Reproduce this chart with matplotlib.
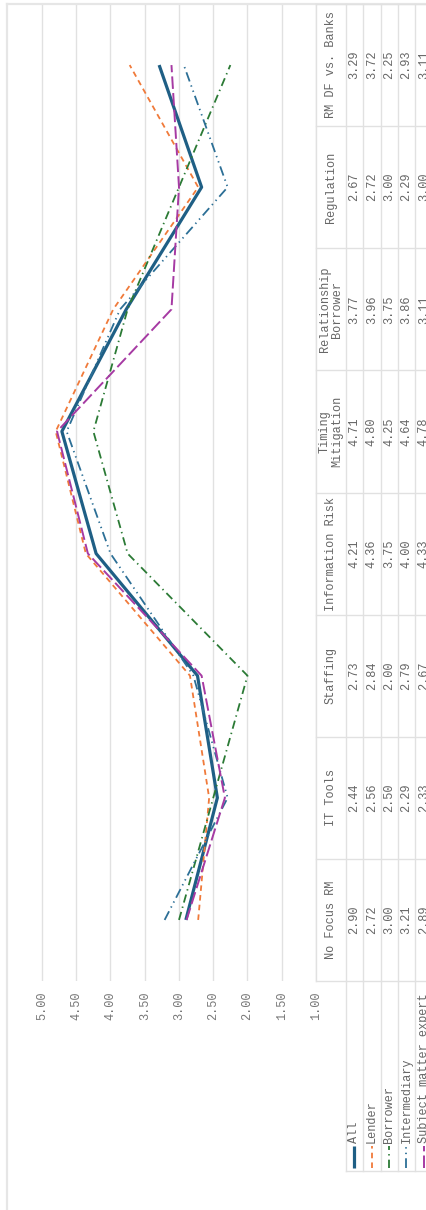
import matplotlib
matplotlib.use("Agg")
import matplotlib.pyplot as plt
from matplotlib.lines import Line2D

plt.rcParams['font.family'] = ['Liberation Mono', 'DejaVu Sans Mono']
plt.rcParams['lines.scale_dashes'] = False

# ---- data -------------------------------------------------------------
categories = ["No Focus RM", "IT Tools", "Staffing", "Information Risk",
              "Timing\nMitigation", "Relationship\nBorrower", "Regulation",
              "RM DF vs. Banks"]
series_names = ["All", "Lender", "Borrower", "Intermediary",
                "Subject matter expert"]
all_vals = [2.90, 2.44, 2.73, 4.21, 4.71, 3.77, 2.67, 3.29]
lender_vals = [2.72, 2.56, 2.84, 4.36, 4.80, 3.96, 2.72, 3.72]
borrower_vals = [3.00, 2.50, 2.00, 3.75, 4.25, 3.75, 3.00, 2.25]
intermediary_vals = [3.21, 2.29, 2.79, 4.00, 4.64, 3.86, 2.29, 2.93]
sme_vals = [2.89, 2.33, 2.67, 4.33, 4.78, 3.11, 3.00, 3.11]
value_ticks = [1.00, 1.50, 2.00, 2.50, 3.00, 3.50, 4.00, 4.50, 5.00]

series_vals = [all_vals, lender_vals, borrower_vals, intermediary_vals, sme_vals]
colors = ["#1f5f85", "#f07a3a", "#2b7a35", "#2c6f96", "#a63aa3"]
widths = [2.3, 1.3, 1.3, 1.3, 1.4]
styles = ["-", (0, (4, 3)), (0, (6, 3, 1, 3)), (0, (7, 3, 1, 3, 1, 3)),
          (0, (9, 3))]

# ---- layout (pixels) ----------------------------------------------------
W, H = 427, 1210
plot_left, plot_right = 7, 316
plot_top, plot_bottom = 4, 981
px_per_unit = 68.5
legend_bottom = 1171
col_edges = [316, 346, 363.5, 381, 398.5, 415.5, 433]
text_color = "#666666"
grid_color = "#e1e1e1"
fs = 8.6

fig = plt.figure(figsize=(W / 100, H / 100), dpi=100)

# main line chart (rotated: values run right-to-left, categories bottom-to-top)
ax = fig.add_axes([plot_left / W, (H - plot_bottom) / H,
                   (plot_right - plot_left) / W, (plot_bottom - plot_top) / H])
v_left = 1.0 + (plot_right - plot_left) / px_per_unit
ax.set_xlim(v_left, 1.0)
ax.set_ylim(-0.5, len(categories) - 0.5)
for v in value_ticks:
    ax.axvline(v, color=grid_color, lw=1.0, zorder=0)
ypos = list(range(len(categories)))
for vals, c, lw, ls in zip(series_vals, colors, widths, styles):
    ax.plot(vals, ypos, color=c, lw=lw, linestyle=ls, zorder=3,
            solid_capstyle='butt', dash_capstyle='butt')
ax.set_xticks([])
ax.set_yticks([])
for s in ax.spines.values():
    s.set_visible(False)
ax.patch.set_alpha(0)

# overlay in pixel coordinates for frame, table and legend
ov = fig.add_axes([0, 0, 1, 1], zorder=5)
ov.set_xlim(0, W)
ov.set_ylim(H, 0)
ov.axis('off')
ov.patch.set_alpha(0)

line_kw = dict(color=grid_color, lw=1.0)
# outer frame
ov.plot([plot_left, W], [plot_top, plot_top], color="#e6e6e6", lw=1.6)
ov.plot([plot_left, plot_left], [plot_top, H], color="#e6e6e6", lw=1.6)

# value axis labels
for v in value_ticks:
    x = plot_right - (v - 1.0) * px_per_unit
    ov.text(x, 1006, f"{v:.2f}", rotation=90, ha='center', va='center',
            fontsize=fs, color="#777777")

# table grid
n = len(categories)
cell_h = (plot_bottom - plot_top) / n
for i in range(n + 1):
    y = plot_top + i * cell_h
    ov.plot([col_edges[0], W], [y, y], **line_kw)
for x in col_edges[:-1]:
    ov.plot([x, x], [plot_top, plot_bottom], **line_kw)
for x in col_edges[1:-1]:
    ov.plot([x, x], [plot_bottom, legend_bottom], **line_kw)
ov.plot([col_edges[1], W], [legend_bottom, legend_bottom], **line_kw)

# table text: category headers and values
for i, cat in enumerate(categories):
    yc = plot_bottom - (i + 0.5) * cell_h
    ov.text((col_edges[0] + col_edges[1]) / 2, yc, cat, rotation=90,
            ha='center', va='center', fontsize=fs, color=text_color,
            multialignment='center', linespacing=1.0)
    for j, vals in enumerate(series_vals):
        xc = (col_edges[j + 1] + col_edges[j + 2]) / 2 - 0.5
        ov.text(xc, yc, f"{vals[i]:.2f}", rotation=90, ha='center',
                va='center', fontsize=fs, color=text_color)

# legend cells
for j, (name, c, lw, ls) in enumerate(zip(series_names, colors, widths, styles)):
    xc = (col_edges[j + 1] + col_edges[j + 2]) / 2 - 0.5
    ov.add_line(Line2D([xc, xc], [1168, 1146], color=c, lw=lw,
                       linestyle=ls, solid_capstyle='butt'))
    ov.text(xc, 1143, name, rotation=90, rotation_mode='anchor',
            ha='left', va='center', fontsize=fs, color=text_color)

fig.savefig("out.png", dpi=100)
